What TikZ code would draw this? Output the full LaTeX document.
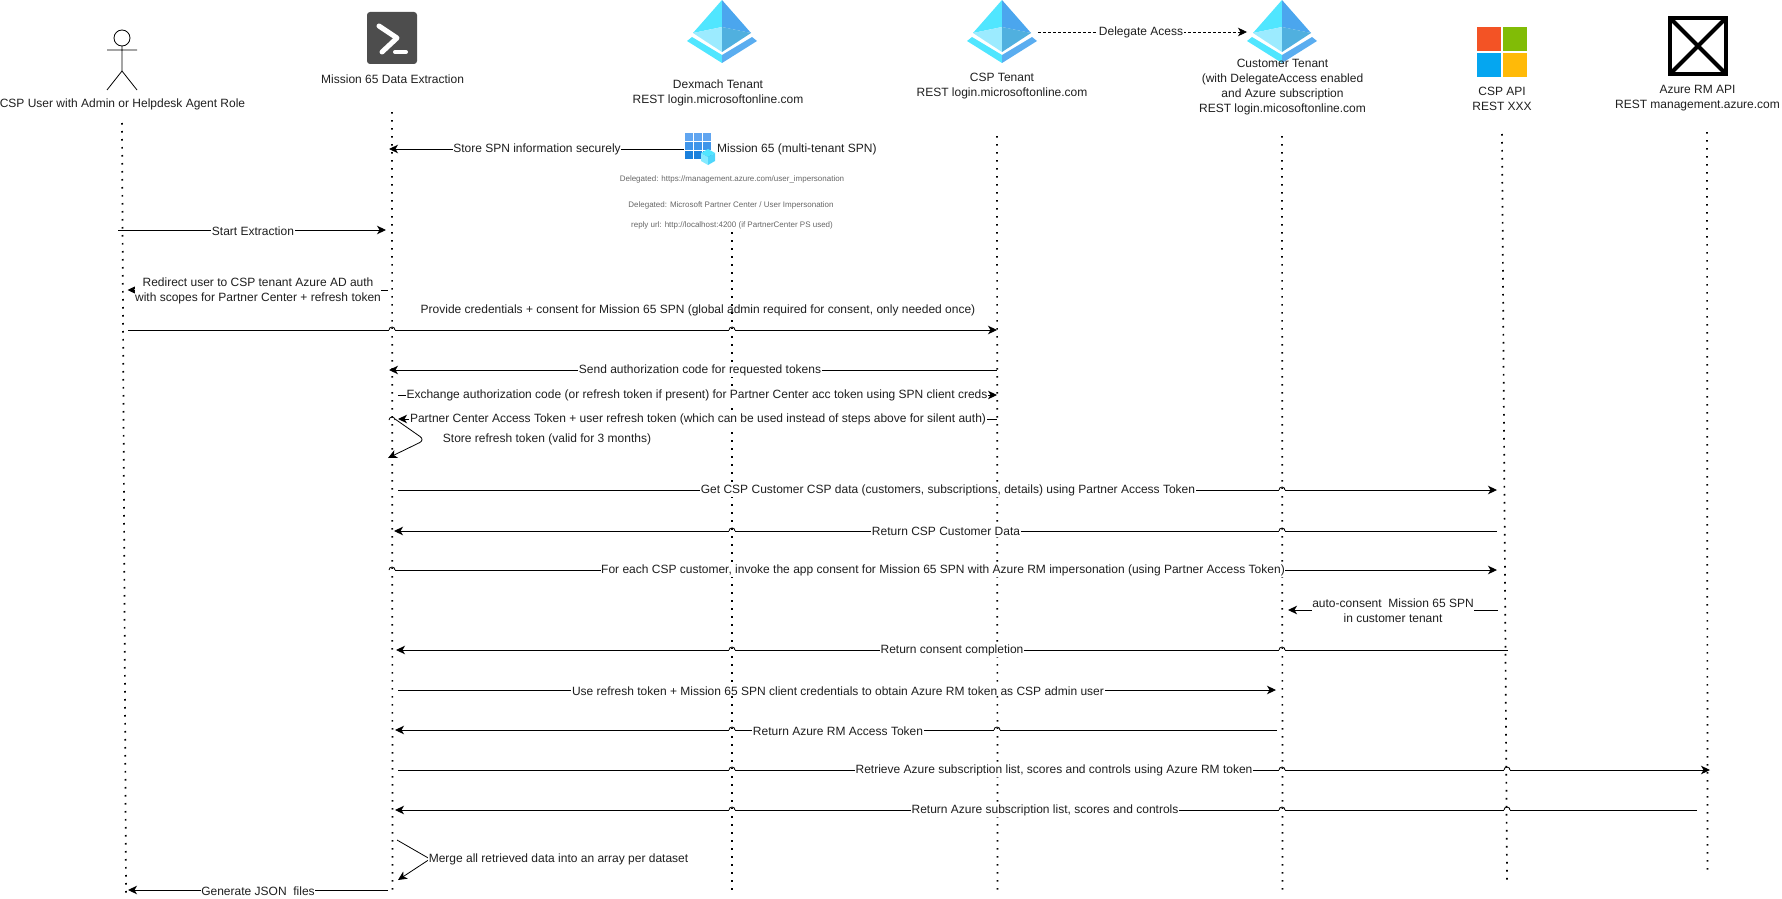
\documentclass[tikz,border=0pt]{standalone}
\usepackage{fontspec}
\setmainfont{Liberation Sans}
\usetikzlibrary{arrows.meta}
\definecolor{azA}{HTML}{50E6FF}
\definecolor{azB}{HTML}{4BA6EE}
\definecolor{azC}{HTML}{9CEBFF}
\definecolor{azD}{HTML}{50B0DF}
\definecolor{azE}{HTML}{5AADF0}
\definecolor{psgray}{HTML}{4D4D4D}
\definecolor{msR}{HTML}{F35325}
\definecolor{msG}{HTML}{81BC06}
\definecolor{msB}{HTML}{05A6F0}
\definecolor{msY}{HTML}{FFBA08}
\tikzset{
  life/.style={line width=1.7pt,dash pattern=on 1.6pt off 6.4pt,black},
  msg/.style={line width=0.95pt,-{Stealth[length=9pt,width=8.5pt,inset=2.5pt]},black},
  lab/.style={fill=white,inner xsep=0.6pt,inner ysep=0.5pt,align=center,text=black!88,font=\fontsize{12}{15}\selectfont,yshift=-0.8pt},
  plain/.style={inner sep=0pt,align=center,text=black!88,font=\fontsize{12}{15}\selectfont,yshift=-0.8pt},
  tiny/.style={inner sep=0pt,align=center,text=black!60,font=\fontsize{8}{10}\selectfont,yshift=-0.8pt},
}
\newcommand{\lifeline}[5]{\coordinate (#1t) at (#2,#3); \coordinate (#1b) at (#4,#5); \draw[life] (#1t) -- (#1b);}
\newcommand{\msgline}[6]{\coordinate (#1s) at (#2,#4); \coordinate (#1e) at (#3,#4); \draw[msg] (#1s) -- (#1e); \node[lab] (#1l) at (#5,#4) {#6};}
\newcommand{\hop}[2]{\draw[white,line width=2pt] ({#1-3.2},#2) -- ({#1+3.2},#2); \draw[line width=0.85pt] ({#1-3},#2) arc (180:0:3pt);}
\newcommand{\azicon}[1]{%
  \begin{scope}[shift={(#1,0)}]
  \fill[azA] (0,0) -- (-29,33) -- (0,27) -- cycle;
  \fill[azB] (0,0) -- (29,33) -- (0,27) -- cycle;
  \fill[azC] (-29,33) -- (0,27) -- (0,52) -- cycle;
  \fill[azD] (29,33) -- (0,27) -- (0,52) -- cycle;
  \fill[azA] (-35,41) -- (-30,37) -- (0,55) -- (0,63) -- cycle;
  \fill[azE] (35,41) -- (30,37) -- (0,55) -- (0,63) -- cycle;
  \end{scope}}
\begin{document}
\begin{tikzpicture}[x=1pt,y=-1pt]
\useasboundingbox (0,0) rectangle (1782,899);
% lifelines
\lifeline{la}{122}{123}{126}{893}
\lifeline{lb}{392}{112}{392.5}{893}
\lifeline{lc}{732}{232}{732}{893}
\lifeline{ld}{997}{136}{997.5}{893}
\lifeline{le}{1282}{136}{1282.5}{890}
\lifeline{lf}{1502}{134}{1507}{880}
\lifeline{lg}{1707}{132}{1707.5}{870}
% actor
\coordinate (armL) at (107,50); \coordinate (armR) at (137,50);
\coordinate (neck) at (122,46); \coordinate (hip) at (122,71);
\coordinate (legL) at (107,90); \coordinate (legR) at (137,90);
\draw[line width=0.8pt] (122,38) circle (8pt);
\draw[line width=0.8pt] (armL) -- (armR) (neck) -- (hip) (legL) -- (hip) -- (legR);
\node[plain] (actor) at (122.5,104) {CSP User with Admin or Helpdesk Agent Role};
% powershell icon
\fill[psgray,rounded corners=3pt] (367,12) rectangle (417,64);
\draw[white,line width=5pt,line cap=round,line join=round] (379,26) -- (397,38) -- (382,52);
\draw[white,line width=4pt,line cap=round] (395,52) -- (406,52);
\node[plain] (ps) at (392.6,78) {Mission 65 Data Extraction};
% tenants
\azicon{722}
\azicon{1002}
\azicon{1282}
\node[plain] (dex) at (718,92.5) {Dexmach Tenant\\REST login.microsoftonline.com};
\node[plain] (csp) at (1002,85.5) {CSP Tenant\\REST login.microsoftonline.com};
\node[plain] (cust) at (1282.5,86) {Customer Tenant\\(with DelegateAccess enabled\\and Azure subscription\\REST login.micosoftonline.com};
% CSP API logo
\fill[msR] (1477,27) rectangle (1501,51);
\fill[msG] (1503,27) rectangle (1527,51);
\fill[msB] (1477,53) rectangle (1501,77);
\fill[msY] (1503,53) rectangle (1527,77);
\node[plain] (api) at (1502,98) {CSP API\\REST XXX};
% Azure RM missing image
\draw[line width=4pt] (1670,18) rectangle (1726,74);
\draw[line width=4pt] (1670,18) -- (1726,74) (1726,18) -- (1670,74);
\node[plain] (rm) at (1697.5,97.5) {Azure RM API\\REST management.azure.com};
% app icon
\foreach \i/\c in {0/60A5F0,1/3F95EA,2/1A80DC}{
  \definecolor{cellc}{HTML}{\c}
  \foreach \j in {0,1,2}{
    \fill[cellc] ({685+\j*9},{133+\i*9}) rectangle ({685+\j*9+8},{133+\i*9+8});
  }
}
\fill[azA] (708,149) -- (715,153) -- (708,157) -- (701,153) -- cycle;
\fill[azC!70!azA] (701,153) -- (708,157) -- (708,165) -- (701,161) -- cycle;
\fill[azA!75!azB] (715,153) -- (708,157) -- (708,165) -- (715,161) -- cycle;
\node[plain,anchor=west] (spn) at (717,149) {Mission 65 (multi-tenant SPN)};
\node[tiny] (s1) at (732,179) {Delegated: https://management.azure.com/user\_impersonation};
\node[tiny] (s2) at (731,205) {Delegated: Microsoft Partner Center / User Impersonation};
\node[tiny] (s3) at (732,225) {reply url: http://localhost:4200 (if PartnerCenter PS used)};
% delegate
\coordinate (delS) at (1038,32); \coordinate (delE) at (1247,32);
\draw[msg,line width=0.85pt,dash pattern=on 3pt off 2pt] (delS) -- (delE);
\node[lab] (dell) at (1141,32) {Delegate Acess};
% messages
\msgline{m1}{684}{389}{149}{537}{Store SPN information securely}
\msgline{m2}{118}{386}{230}{253}{Start Extraction}
\msgline{m3}{388}{127.5}{290}{258}{Redirect user to CSP tenant Azure AD auth\\with scopes for Partner Center + refresh token}
\node[plain] (m4l) at (698,310) {Provide credentials + consent for Mission 65 SPN (global admin required for consent, only needed once)};
\coordinate (m4s) at (128,330); \coordinate (m4e) at (997,330);
\draw[msg] (m4s) -- (m4e);
\hop{392}{330}\hop{732}{330}
\msgline{m5}{997}{389}{370}{700}{Send authorization code for requested tokens}
\msgline{m6}{398}{997}{395}{697}{Exchange authorization code (or refresh token if present) for Partner Center acc token using SPN client creds}
\msgline{m7}{997}{398}{419}{698}{Partner Center Access Token + user refresh token (which can be used instead of steps above for silent auth)}
% self loop
\coordinate (lpS) at (395,419); \coordinate (lpM) at (425,440); \coordinate (lpE) at (388,458);
\draw[line width=0.8pt] (389,420) arc (180:0:3pt);
\draw[msg,line width=0.8pt,rounded corners=6pt] (lpS) -- (lpM) -- (lpE);
\node[plain] (lpl) at (547,439) {Store refresh token (valid for 3 months)};
\msgline{m8}{398}{1497}{490}{948}{Get CSP Customer CSP data (customers, subscriptions, details) using Partner Access Token}
\hop{1282}{490}
\msgline{m9}{1497}{394}{531}{946}{Return CSP Customer Data}
\hop{732}{531}\hop{1282}{531}
\msgline{m10}{390}{1497}{570}{943}{For each CSP customer, invoke the app consent for Mission 65 SPN with Azure RM impersonation (using Partner Access Token)}
\hop{392}{570}
\msgline{m11}{1498}{1288}{610}{1393}{auto-consent\ \ Mission 65 SPN\\in customer tenant}
\msgline{m12}{1508}{396}{650}{952}{Return consent completion}
\hop{732}{650}\hop{1282}{650}
\msgline{m13}{398}{1276}{690}{838}{Use refresh token + Mission 65 SPN client credentials to obtain Azure RM token as CSP admin user}
\msgline{m14}{1277}{395}{730}{838}{Return Azure RM Access Token}
\hop{732}{730}\hop{997}{730}
\msgline{m15}{398}{1710}{770}{1054}{Retrieve Azure subscription list, scores and controls using Azure RM token}
\hop{732}{770}\hop{1282}{770}\hop{1507}{770}
\msgline{m16}{1697}{395}{810}{1045}{Return Azure subscription list, scores and controls}
\hop{732}{810}\hop{1282}{810}\hop{1507}{810}
% merge
\coordinate (mgS) at (397,840); \coordinate (mgM) at (430,859); \coordinate (mgE) at (398,880);
\draw[msg,line width=0.8pt] (mgS) -- (mgM) -- (mgE);
\node[lab,anchor=west] (mgl) at (428,859) {Merge all retrieved data into an array per dataset};
\msgline{m17}{388}{128}{890}{258}{Generate JSON\ \ files}
\end{tikzpicture}
\end{document}
